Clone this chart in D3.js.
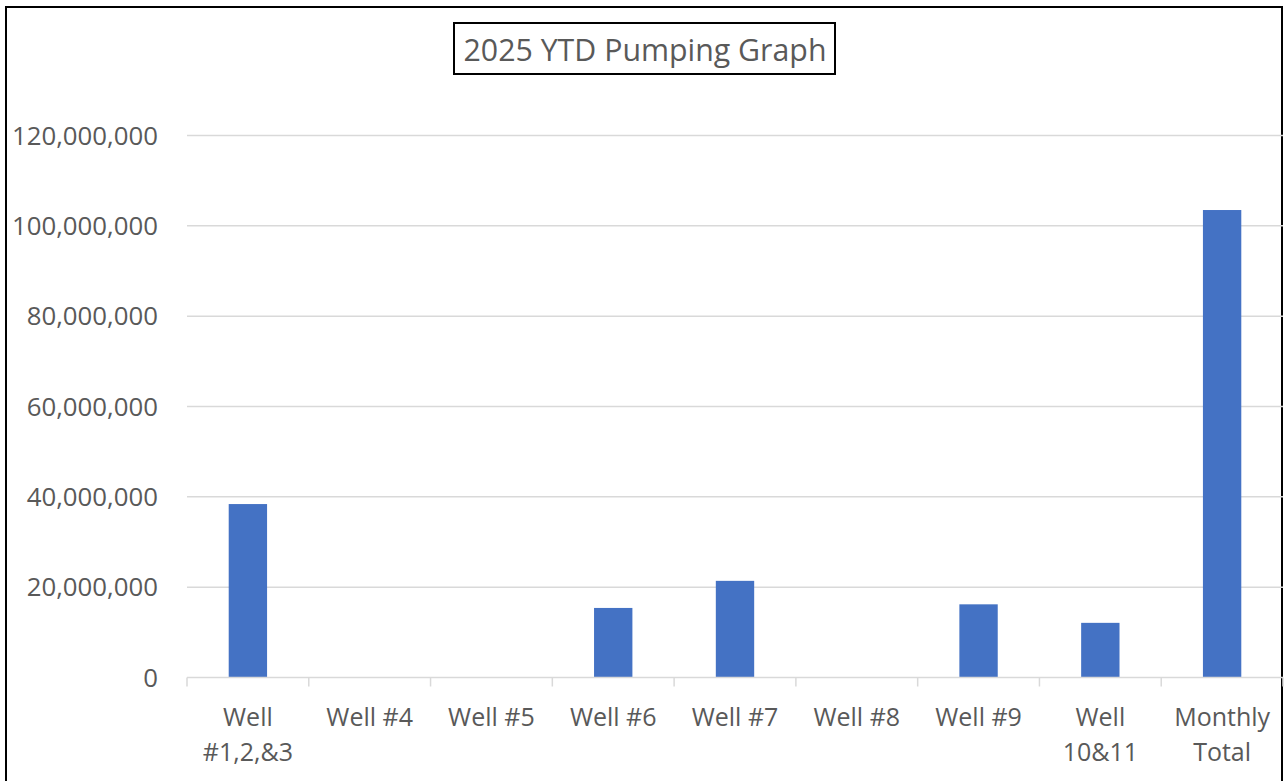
<!DOCTYPE html>
<html>
<head>
  <title>2025 YTD Pumping Graph</title>
  <script src="https://d3js.org/d3.v7.min.js"></script>
  <style>
    body { margin: 0; background: #fff; }
    text { font-family: "Open Sans", "Liberation Sans", sans-serif; fill: #595959; }
  </style>
</head>
<body>
  <div id="chart"></div>

  <script>
    // chart data
    var categories = ['Well #1,2,&3', 'Well #4', 'Well #5', 'Well #6', 'Well #7', 'Well #8', 'Well #9', 'Well 10&11', 'Monthly Total'];
    var labelLines = [['Well', '#1,2,&3'], ['Well #4'], ['Well #5'], ['Well #6'], ['Well #7'], ['Well #8'], ['Well #9'], ['Well', '10&11'], ['Monthly', 'Total']];
    var values = [38400000, 0, 0, 15400000, 21400000, 0, 16200000, 12100000, 103500000];
    var yTicks = [0, 20000000, 40000000, 60000000, 80000000, 100000000, 120000000];
    var title = '2025 YTD Pumping Graph';

    var W = 1284, H = 781;
    var margin = { top: 135.5, right: 1, bottom: 103.5, left: 187 };
    var width = W - margin.left - margin.right;
    var height = H - margin.top - margin.bottom;

    var svg = d3.select('#chart').append('svg')
      .attr('width', W)
      .attr('height', H);

    // outer frame
    svg.append('rect')
      .attr('x', 6).attr('y', 7)
      .attr('width', 1276).attr('height', 820)
      .attr('fill', 'none')
      .attr('stroke', '#000')
      .attr('stroke-width', 2);

    var g = svg.append('g')
      .attr('transform', 'translate(' + margin.left + ',' + margin.top + ')');

    var x = d3.scaleBand()
      .domain(categories)
      .range([0, width])
      .paddingInner(0.685)
      .paddingOuter(0.3425);

    var y = d3.scaleLinear()
      .domain([0, 120000000])
      .range([height, 0]);

    // gridlines
    g.append('g')
      .selectAll('line')
      .data(yTicks.slice(1))
      .enter()
      .append('line')
      .attr('x1', 0).attr('x2', width)
      .attr('y1', function(d) { return y(d); })
      .attr('y2', function(d) { return y(d); })
      .attr('stroke', '#d9d9d9')
      .attr('stroke-width', 1.5);

    // y labels
    g.append('g')
      .selectAll('text')
      .data(yTicks)
      .enter()
      .append('text')
      .attr('x', -29)
      .attr('y', function(d) { return y(d); })
      .attr('dy', '0.36em')
      .attr('text-anchor', 'end')
      .style('font-size', '25.8px')
      .text(function(d) { return d3.format(',')(d); });

    // bars
    g.append('g')
      .selectAll('rect')
      .data(values)
      .enter()
      .append('rect')
      .attr('x', function(d, i) { return x(categories[i]); })
      .attr('y', function(d) { return y(d); })
      .attr('width', x.bandwidth())
      .attr('height', function(d) { return height - y(d); })
      .attr('fill', '#4472c4');

    // x axis line and boundary ticks
    var step = x.step();
    var axis = g.append('g').attr('transform', 'translate(0,' + height + ')');
    axis.append('line')
      .attr('x1', 0).attr('x2', width)
      .attr('stroke', '#d9d9d9')
      .attr('stroke-width', 1.5);
    axis.selectAll('.tick')
      .data(d3.range(categories.length + 1))
      .enter()
      .append('line')
      .attr('class', 'tick')
      .attr('x1', function(i) { return i * step; })
      .attr('x2', function(i) { return i * step; })
      .attr('y1', 0).attr('y2', 9)
      .attr('stroke', '#d9d9d9')
      .attr('stroke-width', 1.5);

    // x labels
    var lbl = axis.selectAll('.xlabel')
      .data(categories)
      .enter()
      .append('text')
      .attr('class', 'xlabel')
      .attr('text-anchor', 'middle')
      .style('font-size', '25px')
      .attr('transform', function(d) { return 'translate(' + (x(d) + x.bandwidth() / 2) + ',48)'; });
    lbl.selectAll('tspan')
      .data(function(d, i) { return labelLines[i]; })
      .enter()
      .append('tspan')
      .attr('x', 0)
      .attr('dy', function(d, i) { return i === 0 ? 0 : 35; })
      .text(function(d) { return d; });

    // title box
    var tg = svg.append('g');
    tg.append('rect')
      .attr('x', 454).attr('y', 23)
      .attr('width', 381).attr('height', 51)
      .attr('fill', '#fff')
      .attr('stroke', '#000')
      .attr('stroke-width', 2);
    tg.append('text')
      .attr('x', 645)
      .attr('y', 61)
      .attr('text-anchor', 'middle')
      .style('font-size', '30.3px')
      .text(title);
  </script>
</body>
</html>
